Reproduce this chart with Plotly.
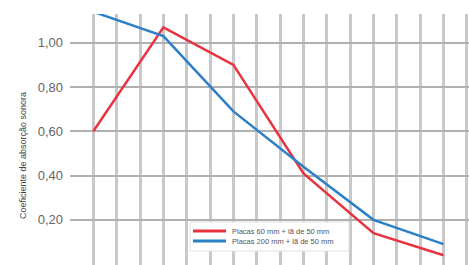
import plotly.graph_objects as go

# third-octave band positions (index along x); data at octave bands
band_index = [1, 4, 7, 10, 13, 16]
red_values = [0.60, 1.07, 0.90, 0.41, 0.14, 0.04]
blue_values = [1.14, 1.03, 0.69, 0.44, 0.20, 0.09]
red_name = "Placas 60 mm + lã de 50 mm"
blue_name = "Placas 200 mm + lã de 50 mm"
y_ticks = [0.0, 0.2, 0.4, 0.6, 0.8, 1.0]
y_title = "Coeficiente de absorção sonora"

RED = "#e8333f"
BLUE = "#2e80c6"

fig = go.Figure()
fig.add_trace(go.Scatter(x=band_index, y=red_values, mode="lines", name=red_name,
                         cliponaxis=False, line=dict(color=RED, width=2.5)))
fig.add_trace(go.Scatter(x=band_index, y=blue_values, mode="lines", name=blue_name,
                         cliponaxis=False, line=dict(color=BLUE, width=2.5)))

L, T, W, H = 70, 14, 469, 265
pw, ph = W - L, H - T


def px(x):
    return (x - L) / pw


def py(y):
    return (H - y) / ph


shapes = [
    dict(type="rect", xref="paper", yref="paper", x0=px(190), x1=px(349),
         y0=py(251), y1=py(222), fillcolor="white",
         line=dict(color="#e2e2e2", width=1), layer="above"),
    dict(type="line", xref="paper", yref="paper", x0=px(193), x1=px(226),
         y0=py(231), y1=py(231), line=dict(color=RED, width=3), layer="above"),
    dict(type="line", xref="paper", yref="paper", x0=px(193), x1=px(226),
         y0=py(241), y1=py(241), line=dict(color=BLUE, width=3), layer="above"),
]
annotations = [
    dict(text=y_title, textangle=-90, x=px(16), y=py(156),
         xref="paper", yref="paper", showarrow=False,
         font=dict(family="Liberation Sans", size=9, color="#444")),
    dict(text=red_name, x=px(230), y=py(231), xref="paper", yref="paper",
         xanchor="left", yanchor="middle", showarrow=False,
         font=dict(family="Liberation Sans", size=7.5, color="#555")),
    dict(text=blue_name, x=px(230), y=py(241), xref="paper", yref="paper",
         xanchor="left", yanchor="middle", showarrow=False,
         font=dict(family="Liberation Sans", size=7.5, color="#555")),
]

fig.update_layout(
    width=W, height=H,
    margin=dict(l=L, r=0, t=T, b=0, autoexpand=False),
    paper_bgcolor="white", plot_bgcolor="white",
    separators=",.",
    showlegend=False,
    xaxis=dict(range=[0, 17.09], tick0=0, dtick=1, showticklabels=False,
               showgrid=True, gridcolor="#c8c8c8", gridwidth=3,
               zeroline=False, showline=False, ticks=""),
    yaxis=dict(range=[-0.004, 1.13], tickvals=y_ticks, tickformat=".2f",
               showgrid=True, gridcolor="#b0b0b0", gridwidth=2,
               zeroline=False, showline=False, ticks="",
               ticklabelstandoff=6,
               tickfont=dict(family="Liberation Sans", size=13, color="#666")),
    shapes=shapes,
    annotations=annotations,
)

fig.write_html("out.html", config={"displayModeBar": False},
               post_script="document.body.style.margin='0';document.body.style.overflow='hidden';")
